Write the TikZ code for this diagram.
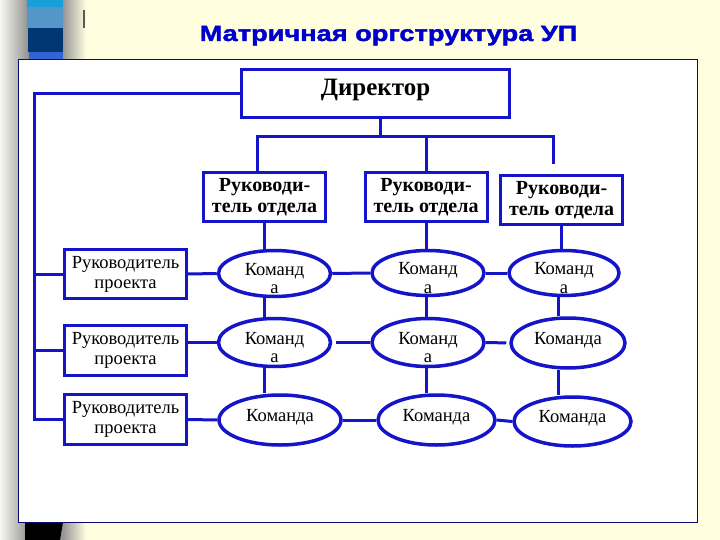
\documentclass[tikz,border=0pt]{standalone}
\usepackage{fontspec}
\usepackage{graphicx}
\setmainfont{Liberation Serif}
\newfontfamily\titlefont[BoldFeatures={FakeBold=1.6}]{Liberation Sans}
\usetikzlibrary{shapes.geometric}
\definecolor{bgyellow}{RGB}{255,255,224}
\definecolor{lineblue}{RGB}{20,20,200}
\definecolor{titleblue}{RGB}{0,0,205}
\definecolor{panelnavy}{RGB}{10,10,110}
\definecolor{barcyan}{RGB}{25,160,220}
\definecolor{barsteel}{RGB}{85,150,200}
\definecolor{barnavy}{RGB}{0,55,115}
\definecolor{barblue}{RGB}{50,100,215}
\definecolor{sideL}{RGB}{248,248,240}
\definecolor{sideM}{RGB}{150,150,150}
\begin{document}
\begin{tikzpicture}[x=1pt,y=-1pt,
  conn/.style={draw=lineblue,line width=3pt},
  boxnode/.style={draw=lineblue,line width=3pt,fill=white,inner sep=0pt},
  teamnode/.style={ellipse,draw=lineblue,line width=3.5pt,fill=white,inner sep=0pt},
  teamtext/.style={inner sep=0pt,align=center,font=\fontsize{18.5}{18.5}\selectfont}]
\useasboundingbox (0,0) rectangle (720,540);
\fill[bgyellow] (0,0) rectangle (720,540);
% side strip
\shade[left color=sideL,right color=sideM] (0,0) rectangle (27,540);
\fill[sideM] (27,0) rectangle (63,540);
\shade[left color=sideM,right color=bgyellow] (63,0) rectangle (86,540);
\fill[barcyan] (27,0) rectangle (63,7);
\fill[barsteel] (27,7) rectangle (63,28);
\fill[barnavy] (28,28) rectangle (63,52);
\fill[barblue] (29,52) rectangle (63,60);
\fill[black] (25,522) -- (63,522) -- (60,540) -- (25,540) -- cycle;
\draw[gray!70!black,line width=1.2pt] (84,10) -- (84,28);
% panel
\draw[panelnavy,line width=1pt,fill=white] (18,60) rectangle (697,522);
% title
\node[anchor=base,inner sep=0pt,font=\titlefont\bfseries\fontsize{22}{26}\selectfont,text=titleblue] (title) at (388.5,41) {\scalebox{1.236}[1]{Матричная оргструктура УП}};
% director
\node[boxnode,minimum width=268pt,text height=26.5pt,text depth=21.5pt,font=\bfseries\fontsize{25}{28}\selectfont] (dir) at (375.5,93.5) {Директор};
% department heads
\node[boxnode,align=center,minimum width=122pt,minimum height=49pt,font=\bfseries\fontsize{20}{21}\selectfont] (d1) at (264.5,197) {Руководи-\\тель отдела};
\node[boxnode,align=center,minimum width=122pt,minimum height=49pt,font=\bfseries\fontsize{20}{21}\selectfont] (d2) at (426,197) {Руководи-\\тель отдела};
\node[boxnode,align=center,minimum width=122pt,minimum height=49pt,font=\bfseries\fontsize{20}{21}\selectfont] (d3) at (561.5,200) {Руководи-\\тель отдела};
% project managers
\node[boxnode,align=center,minimum width=122pt,minimum height=49pt,font=\fontsize{18.5}{20}\selectfont] (p1) at (125.5,274) {Руководитель\\проекта};
\node[boxnode,align=center,minimum width=122pt,minimum height=50pt,font=\fontsize{18.5}{20}\selectfont] (p2) at (125.5,350.5) {Руководитель\\проекта};
\node[boxnode,align=center,minimum width=122pt,minimum height=50pt,font=\fontsize{18.5}{20}\selectfont] (p3) at (125.5,419.5) {Руководитель\\проекта};
% teams
\node[teamnode,minimum width=112pt,minimum height=46pt] (e11) at (274.5,273.5) {};
\node[teamnode,minimum width=112pt,minimum height=48pt] (e21) at (274.5,342.5) {};
\node[teamnode,minimum width=122pt,minimum height=50pt] (e31) at (280,420) {};
\node[teamnode,minimum width=112pt,minimum height=45pt] (e12) at (428,273) {};
\node[teamnode,minimum width=112pt,minimum height=48pt] (e22) at (428,342.5) {};
\node[teamnode,minimum width=117pt,minimum height=50pt] (e32) at (436.5,420) {};
\node[teamnode,minimum width=110pt,minimum height=45pt] (e13) at (564,273) {};
\node[teamnode,minimum width=114pt,minimum height=50pt] (e23) at (568,343) {};
\node[teamnode,minimum width=117pt,minimum height=49pt] (e33) at (572.5,421.5) {};
\node[teamtext] (t11) at ([yshift=-5pt]e11.center) {Команд\\а};
\node[teamtext] (t21) at ([yshift=-5pt]e21.center) {Команд\\а};
\node[teamtext] (t31) at ([yshift=3pt]e31.center) {Команда};
\node[teamtext] (t12) at ([yshift=-5pt]e12.center) {Команд\\а};
\node[teamtext] (t22) at ([yshift=-5pt]e22.center) {Команд\\а};
\node[teamtext] (t32) at ([yshift=3pt]e32.center) {Команда};
\node[teamtext] (t13) at ([yshift=-5pt]e13.center) {Команд\\а};
\node[teamtext] (t23) at ([yshift=3pt]e23.center) {Команда};
\node[teamtext] (t33) at ([yshift=3pt]e33.center) {Команда};
% top bus
\coordinate (busL) at (257,137);
\coordinate (busR) at (553,137);
\coordinate (busRend) at (553,164);
\coordinate (stub) at (380,137);
\draw[conn] (stub |- dir.south) -- (stub);
\draw[conn] (busL |- d1.north) -- (busL) -- (busR) -- (busRend);
\draw[conn] (d2.north) -- (d2.north |- busL);
% left bus
\coordinate (leftx) at (34,0);
\draw[conn] (dir.west) -- (dir.west -| leftx) -- (leftx |- p3.west) -- (p3.west);
\draw[conn] (leftx |- p1.west) -- (p1.west);
\draw[conn] (leftx |- p2.west) -- (p2.west);
% rows
\draw[conn] (p1.east) -- (e11.west);
\draw[conn] (p2.east |- e21.west) -- (e21.west);
\draw[conn] (p3.east) -- (e31.west);
\draw[conn] (e11.east) -- (e12.west);
\draw[conn] (e12.east) -- (e13.west);
\draw[conn,shorten <=4pt] (e21.east) -- (e22.west);
\draw[conn,shorten >=3pt] (e22.east) -- (e23.west);
\draw[conn] (e31.east) -- (e32.west);
\draw[conn] (e32.east) -- (e33.west);
% columns
\coordinate (c1) at (264,0);
\coordinate (c2) at (426,0);
\coordinate (c3) at (558,0);
\draw[conn] (d1.south) -- (d1.south |- e11.north);
\draw[conn] (c1 |- e11.south) -- (c1 |- e21.north);
\draw[conn] (c1 |- e21.south) -- (c1 |- e31.north);
\draw[conn] (d2.south) -- (d2.south |- e12.north);
\draw[conn] (c2 |- e12.south) -- (c2 |- e22.north);
\draw[conn] (c2 |- e22.south) -- (c2 |- e32.north);
\draw[conn] (d3.south) -- (d3.south |- e13.north);
\draw[conn] (c3 |- e13.south) -- (c3 |- e23.north);
\draw[conn] (c3 |- e23.south) -- (c3 |- e33.north);
\end{tikzpicture}
\end{document}
